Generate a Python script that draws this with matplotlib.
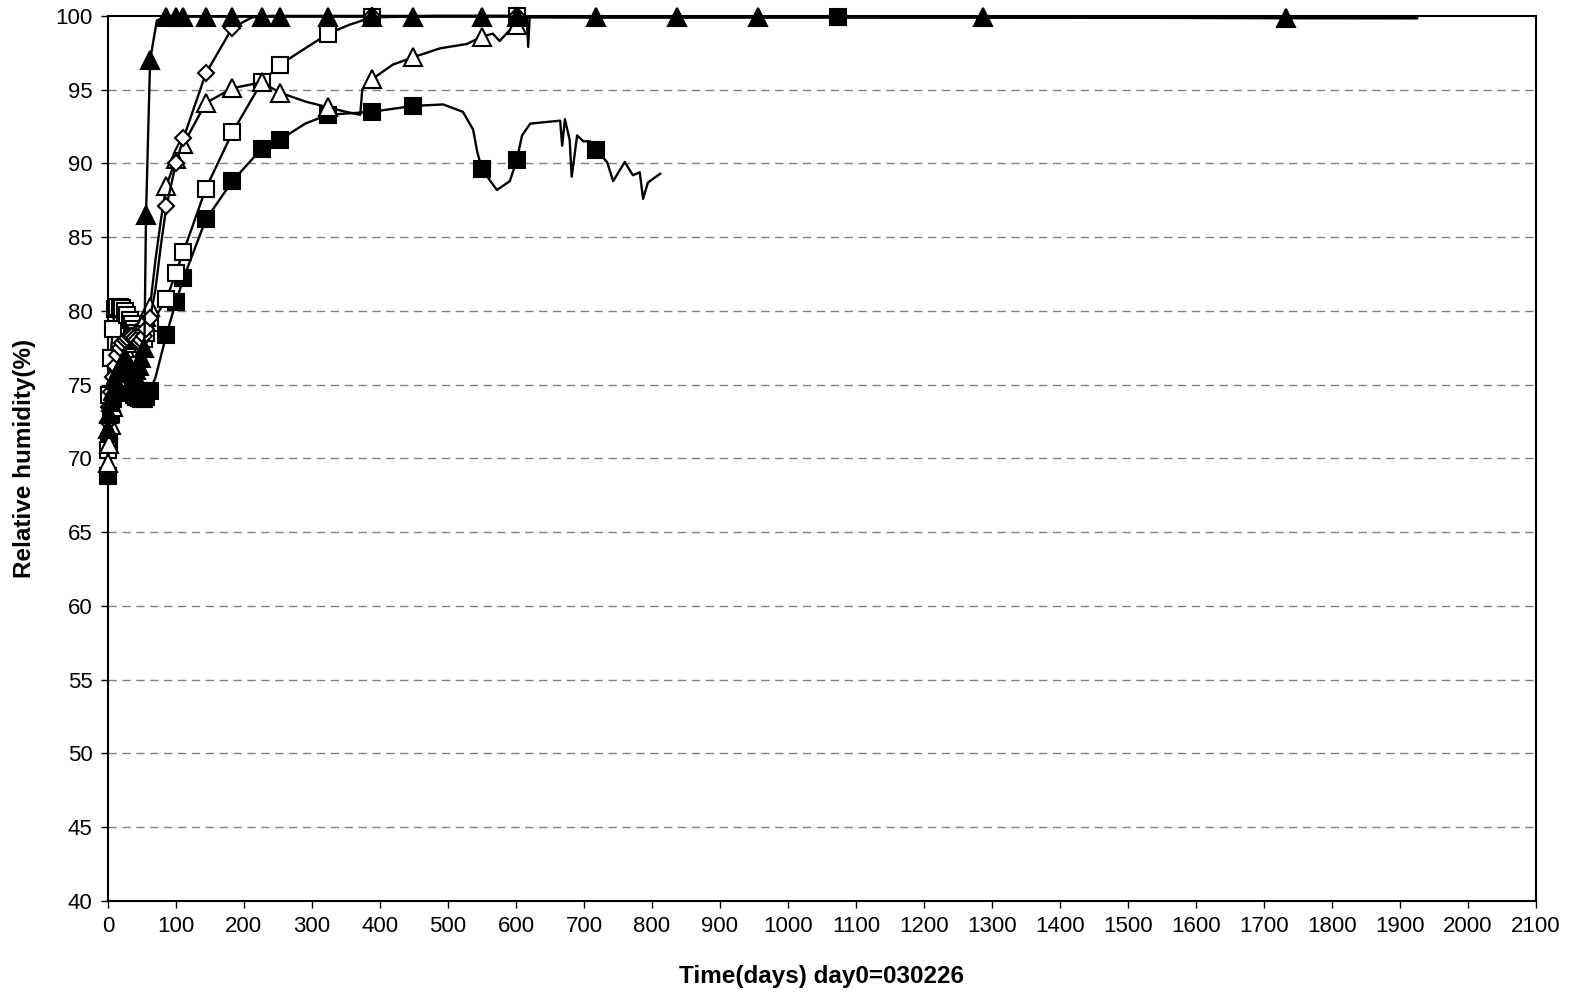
import numpy as np
import matplotlib
matplotlib.use('Agg')
import matplotlib.pyplot as plt

plt.rcParams['font.family'] = ['Liberation Sans', 'DejaVu Sans']

# Days on which Excel drew a marker
MARK_DAYS = [0, 2, 4, 7, 10, 14, 18, 21, 25, 28, 32, 35, 39, 42, 46, 49, 53, 56, 62,
             86, 100, 111, 144, 183, 226, 253, 324, 388, 449, 550, 601, 718, 837,
             956, 1074, 1287, 1732]

EARLY_DAYS = [0, 2, 4, 7, 10, 14, 18, 21, 25, 28, 32, 35, 39, 42, 46, 49, 53, 56, 62]

# Filled triangle sensor
s1_days = EARLY_DAYS[:17] + [54, 56, 62, 72, 86, 100, 111, 144, 183, 226, 253, 324, 388,
                             449, 550, 601, 718, 837, 956, 1287, 1732, 1925]
s1_rh = [72.0, 73.0, 73.8, 74.6, 75.3, 75.8, 76.2, 76.5, 76.8, 76.6, 76.3, 76.0, 75.8,
         76.0, 76.3, 76.8, 77.5, 78.8, 86.5, 97.0, 99.7, 99.95, 99.95, 99.95, 99.95,
         99.95, 99.95, 99.95, 99.95, 99.95, 99.95, 99.95, 99.95, 99.9, 99.9, 99.9,
         99.9, 99.85, 99.85]

# Open diamond sensor
s2_days = EARLY_DAYS + [70, 78, 86, 100, 111, 144, 183, 212, 240, 388, 601, 620]
s2_rh = [72.5, 73.5, 74.5, 75.5, 76.3, 77.0, 77.5, 77.8, 78.0, 78.2, 78.3, 78.3, 78.2,
         78.0, 77.9, 78.0, 78.3, 78.8, 79.5, 81.5, 84.5, 87.1, 90.0, 91.7, 96.1, 99.2,
         99.9, 100.0, 100.0, 100.0, 99.9]

# Open triangle sensor
s3_days = EARLY_DAYS + [70, 78, 86, 100, 111, 144, 183, 226, 253, 290, 324, 350, 371,
                        374, 388, 419, 449, 488, 528, 550, 566, 576, 596, 601, 612,
                        616, 618, 620]
s3_rh = [69.7, 71.0, 72.3, 73.5, 74.5, 75.5, 76.3, 77.0, 77.5, 77.8, 78.0, 78.2, 78.3,
         78.5, 78.7, 79.0, 79.3, 79.6, 80.3, 83.5, 86.2, 88.5, 90.3, 91.3, 94.1, 95.1,
         95.5, 94.8, 94.2, 93.8, 93.5, 93.3, 95.0, 95.7, 96.7, 97.2, 97.8, 98.1, 98.6,
         98.8, 98.3, 99.3, 99.4, 99.8, 99.8, 97.9, 99.8]

# Open square sensor
s4_days = EARLY_DAYS + [70, 86, 100, 111, 144, 183, 226, 253, 290, 324, 355, 388, 480,
                        601, 620]
s4_rh = [70.6, 74.3, 76.8, 78.8, 80.1, 80.3, 80.3, 80.2, 80.0, 79.7, 79.4, 79.1, 78.8,
         78.5, 78.2, 78.0, 78.1, 78.5, 79.2, 79.6, 80.8, 82.6, 84.0, 88.3, 92.1, 95.5,
         96.7, 97.8, 98.8, 99.4, 99.9, 100.0, 100.0, 99.9]

# Filled square sensor
s5_days = EARLY_DAYS + [70, 86, 100, 111, 144, 183, 226, 253, 290, 324, 388, 449, 493,
                        522, 537, 543, 550, 572, 591, 601, 609, 621, 665, 668, 672,
                        679, 682, 690, 699, 709, 718, 734, 743, 760, 772, 782, 787,
                        794, 812]
s5_rh = [68.8, 71.1, 73.0, 74.0, 74.5, 74.8, 75.0, 75.0, 74.9, 74.8, 74.6, 74.5, 74.3,
         74.2, 74.1, 74.0, 74.0, 74.2, 74.6, 75.5, 78.4, 80.6, 82.2, 86.2, 88.8, 91.0,
         91.6, 92.7, 93.3, 93.5, 93.9, 94.0, 93.5, 92.3, 90.8, 89.6, 88.2, 88.8, 90.2,
         91.9, 92.7, 92.9, 91.2, 93.0, 91.6, 89.1, 91.9, 91.5, 91.5, 90.9, 90.1, 88.8,
         90.1, 89.2, 89.4, 87.6, 88.7, 89.3]

# Second filled square sensor, saturated
s6_days = [620, 1074, 1925]
s6_rh = [99.9, 99.9, 99.85]

series = [
    (s5_days, s5_rh, 's', 'black', 11.5),
    (s4_days, s4_rh, 's', 'white', 11.5),
    (s3_days, s3_rh, '^', 'white', 13),
    (s2_days, s2_rh, 'D', 'white', 8),
    (s1_days, s1_rh, '^', 'black', 13),
    (s6_days, s6_rh, 's', 'black', 11.5),
]

fig = plt.figure(figsize=(15.71, 9.96), dpi=100)
ax = fig.add_axes([0.0687, 0.0954, 0.909, 0.8886])

for days, rh, mk, face, ms in series:
    mask = [d in MARK_DAYS for d in days]
    ax.plot(days, rh, color='black', lw=1.7, marker=mk, markersize=ms,
            markerfacecolor=face, markeredgecolor='black', markeredgewidth=1.5,
            markevery=mask, clip_on=False, zorder=3)

for y in range(45, 100, 5):
    ax.axhline(y, color='#808080', lw=1, linestyle=(0, (6, 4)), zorder=0)

ax.set_xlim(0, 2100)
ax.set_ylim(40, 100)
ax.set_xticks(np.arange(0, 2101, 100))
ax.set_yticks(np.arange(40, 101, 5))
ax.tick_params(direction='out', length=5, width=1, labelsize=16, pad=6)
for sp in ax.spines.values():
    sp.set_linewidth(1.5)

ax.set_xlabel('Time(days) day0=030226', fontsize=17.5, fontweight='bold', labelpad=20)
ax.set_ylabel('Relative humidity(%)', fontsize=17.5, fontweight='bold', labelpad=14)

fig.savefig('out.png', dpi=100)
